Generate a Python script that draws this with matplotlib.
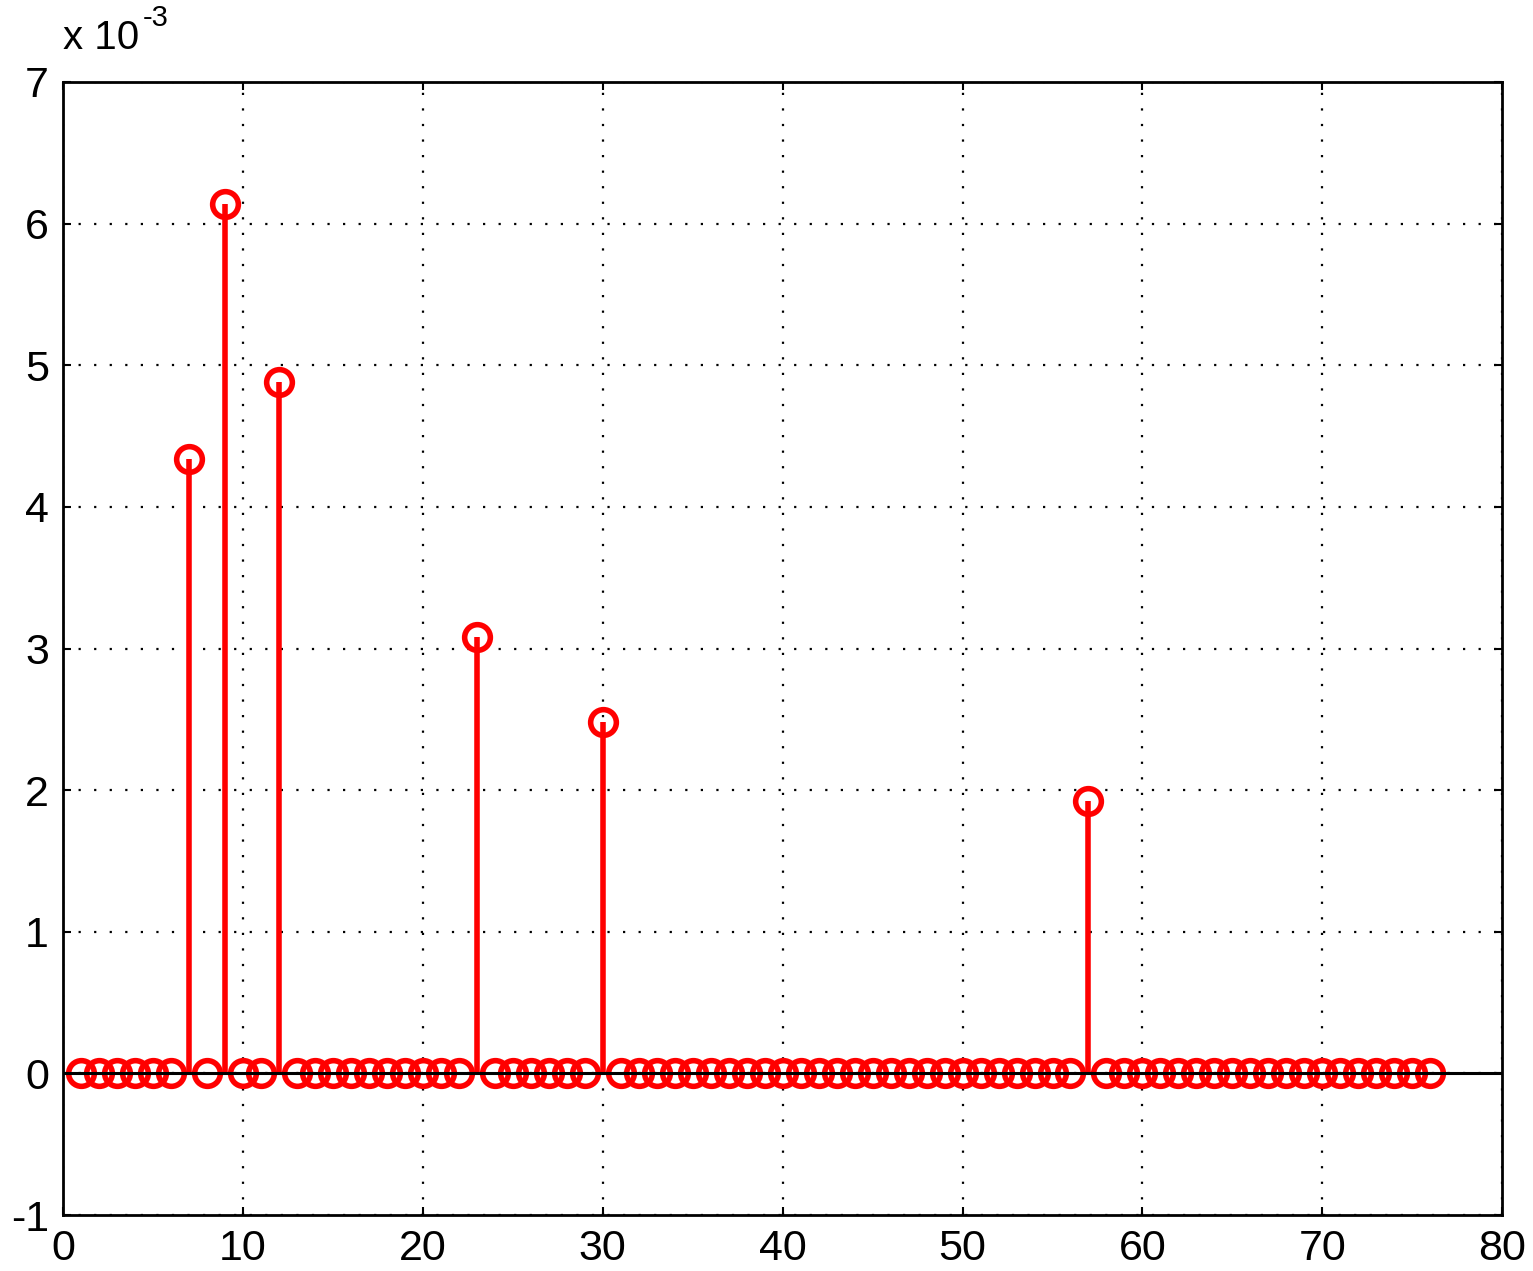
import numpy as np
import matplotlib
matplotlib.use("Agg")
import matplotlib.pyplot as plt
from matplotlib.ticker import FuncFormatter

# sample index and amplitude of the nonzero bins
n = np.arange(1, 77)
peak_idx = [7, 9, 12, 23, 30, 57]
peak_amp = [4.34e-3, 6.14e-3, 4.88e-3, 3.08e-3, 2.48e-3, 1.92e-3]

amp = np.zeros(len(n))
for k, a in zip(peak_idx, peak_amp):
    amp[n == k] = a

xticks = [0, 10, 20, 30, 40, 50, 60, 70, 80]
yticks = [-1e-3, 0, 1e-3, 2e-3, 3e-3, 4e-3, 5e-3, 6e-3, 7e-3]

plt.rcParams['font.family'] = ['Liberation Sans', 'DejaVu Sans']

fig = plt.figure(figsize=(15.33, 12.71), dpi=100)
ax = fig.add_axes([0.041, 0.044, 0.939, 0.8915])

markerline, stemlines, baseline = ax.stem(n, amp, linefmt='r-', markerfmt='ro', basefmt='k-')
markerline.set_markerfacecolor('none')
markerline.set_markeredgecolor('red')
markerline.set_markersize(18.5)
markerline.set_markeredgewidth(4)
stemlines.set_linewidth(4)
baseline.set_linewidth(2.2)
baseline.set_xdata([0, 80])
baseline.set_zorder(4)

ax.set_xlim(0, 80)
ax.set_ylim(-1e-3, 7e-3)
ax.set_xticks(xticks)
ax.set_yticks(yticks)
ax.yaxis.set_major_formatter(FuncFormatter(lambda v, p: '%g' % round(v * 1e3, 6)))

ax.grid(True, color='black', linestyle=(0, (1, 6)), linewidth=1.6)
ax.set_axisbelow(True)
for s in ax.spines.values():
    s.set_linewidth(2.0)
ax.tick_params(direction='in', length=6, width=1.5, top=True, right=True,
               labelsize=31, pad=10)

fig.text(0.041, 0.955, 'x 10', fontsize=29, ha='left', va='bottom')
fig.text(0.093, 0.975, '-3', fontsize=21, ha='left', va='bottom')

fig.savefig('out.png', dpi=100)
